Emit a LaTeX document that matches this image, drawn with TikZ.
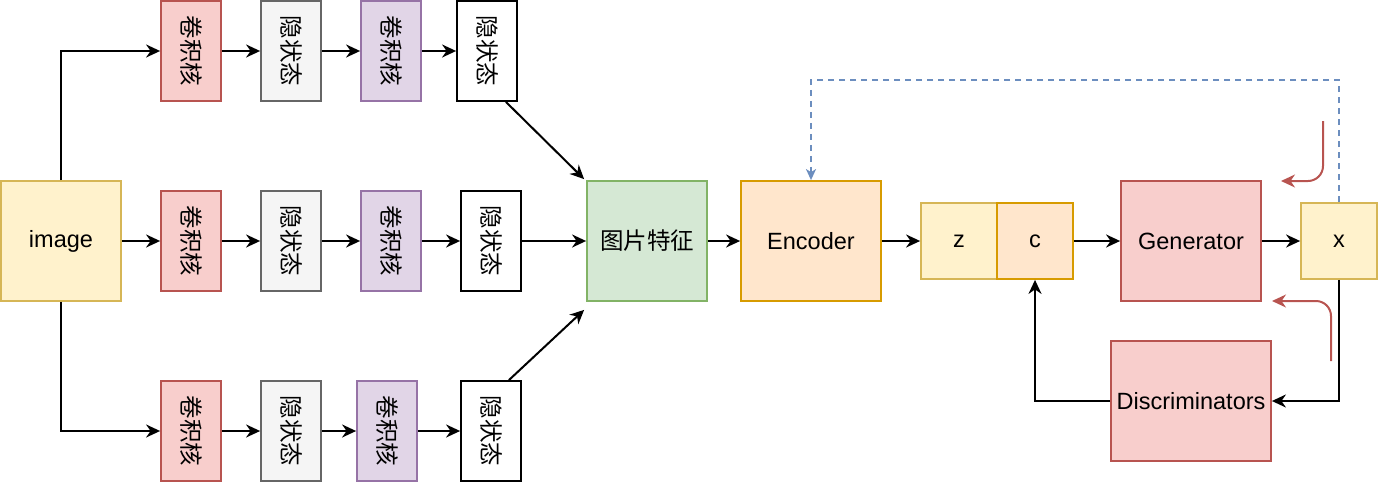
\documentclass[tikz,border=0pt]{standalone}
\usepackage{fontspec}
\setmainfont{Liberation Sans}
\newfontfamily\cjk{Noto Sans CJK SC}
\usetikzlibrary{arrows.meta}
\definecolor{yfill}{HTML}{FFF2CC}\definecolor{ydraw}{HTML}{D6B656}
\definecolor{rfill}{HTML}{F8CECC}\definecolor{rdraw}{HTML}{B85450}
\definecolor{gfill}{HTML}{F5F5F5}\definecolor{gdraw}{HTML}{666666}
\definecolor{pfill}{HTML}{E1D5E7}\definecolor{pdraw}{HTML}{9673A6}
\definecolor{grfill}{HTML}{D5E8D4}\definecolor{grdraw}{HTML}{82B366}
\definecolor{ofill}{HTML}{FFE6CC}\definecolor{odraw}{HTML}{D79B00}
\definecolor{bdraw}{HTML}{6C8EBF}
\tikzset{
  base/.style={draw, line width=1.8pt, inner sep=0pt, font=\fontsize{23.5}{28}\selectfont},
  small/.style={base, minimum width=60pt, minimum height=100pt},
  big/.style={base, minimum width=120pt, minimum height=120pt},
  wide/.style={base, minimum width=140pt, minimum height=120pt},
  sq/.style={base, minimum width=76pt, minimum height=76pt},
  conv/.style={small, fill=rfill, draw=rdraw},
  hidg/.style={small, fill=gfill, draw=gdraw},
  convp/.style={small, fill=pfill, draw=pdraw},
  hidw/.style={small, fill=white, draw=black},
  arr/.style={line width=2pt, -{Stealth[length=14pt, width=13pt, inset=4.5pt]}},
  redarr/.style={line width=2pt, draw=rdraw, rounded corners=15pt, -{Stealth[length=14pt, width=13pt, inset=4.5pt]}},
  dasharr/.style={line width=1.8pt, draw=bdraw, dash pattern=on 6pt off 5pt, -{Stealth[length=11pt, width=10pt, inset=3pt]}},
}
\newcommand{\vtext}[1]{\rotatebox{-90}{\cjk #1}}
\begin{document}
\begin{tikzpicture}[x=1pt, y=-1pt]
\useasboundingbox (0,0) rectangle (1378,482);
\node[big, fill=yfill, draw=ydraw] (img) at (61,241) {image};
% top row
\node[conv]  (t1) at (191,51) {\vtext{卷积核}};
\node[hidg]  (t2) at (291,51) {\vtext{隐状态}};
\node[convp] (t3) at (391,51) {\vtext{卷积核}};
\node[hidw]  (t4) at (487,51) {\vtext{隐状态}};
% middle row
\node[conv]  (m1) at (191,241) {\vtext{卷积核}};
\node[hidg]  (m2) at (291,241) {\vtext{隐状态}};
\node[convp] (m3) at (391,241) {\vtext{卷积核}};
\node[hidw]  (m4) at (491,241) {\vtext{隐状态}};
% bottom row
\node[conv]  (b1) at (191,431) {\vtext{卷积核}};
\node[hidg]  (b2) at (291,431) {\vtext{隐状态}};
\node[convp] (b3) at (387,431) {\vtext{卷积核}};
\node[hidw]  (b4) at (491,431) {\vtext{隐状态}};
\node[big, fill=grfill, draw=grdraw, font=\cjk\fontsize{23.5}{28}\selectfont] (feat) at (647,241) {图片特征};
\node[wide, fill=ofill, draw=odraw] (enc) at (811,241) {Encoder};
\node[sq, fill=yfill, draw=ydraw] (z) at (959,241) {z};
\node[sq, fill=ofill, draw=odraw] (c) at (1035,241) {c};
\node[wide, fill=rfill, draw=rdraw] (gen) at (1191,241) {Generator};
\node[sq, fill=yfill, draw=ydraw] (x) at (1339,241) {x};
\node[base, minimum width=160pt, minimum height=120pt, fill=rfill, draw=rdraw] (disc) at (1191,401) {Discriminators};
% image fan-out
\draw[arr] (img.north) |- (t1.west);
\draw[arr] (img.east) -- (m1.west);
\draw[arr] (img.south) |- (b1.west);
% chains
\draw[arr] (t1) -- (t2); \draw[arr] (t2) -- (t3); \draw[arr] (t3) -- (t4);
\draw[arr] (m1) -- (m2); \draw[arr] (m2) -- (m3); \draw[arr] (m3) -- (m4);
\draw[arr] (b1) -- (b2); \draw[arr] (b2) -- (b3); \draw[arr] (b3) -- (b4);
% into features
\draw[arr] ([xshift=-12pt]t4.south east) -- ([xshift=-2pt,yshift=1pt]feat.north west);
\draw[arr] (m4.east) -- (feat.west);
\draw[arr] ([xshift=-13pt]b4.north east) -- ([xshift=-2pt,yshift=-8pt]feat.south west);
% pipeline
\draw[arr] (feat) -- (enc);
\draw[arr] (enc) -- (z);
\draw[arr] (c) -- (gen);
\draw[arr] (gen) -- (x);
\draw[arr] (x.south) |- (disc.east);
\draw[arr] (disc.west) -| (c.south);
% dashed feedback
\coordinate (dtop) at (1339,80);
\draw[dasharr] (x.north) -- (dtop) -- (enc.north |- dtop) -- (enc.north);
% red curved arrows
\coordinate (r1s) at (1323,121);
\coordinate (r1c) at (1323,181);
\coordinate (r1e) at (1281,181);
\draw[redarr] (r1s) -- (r1c) -- (r1e);
\coordinate (r2s) at (1331,361);
\coordinate (r2c) at (1331,301);
\coordinate (r2e) at (1272,301);
\draw[redarr] (r2s) -- (r2c) -- (r2e);
\end{tikzpicture}
\end{document}
